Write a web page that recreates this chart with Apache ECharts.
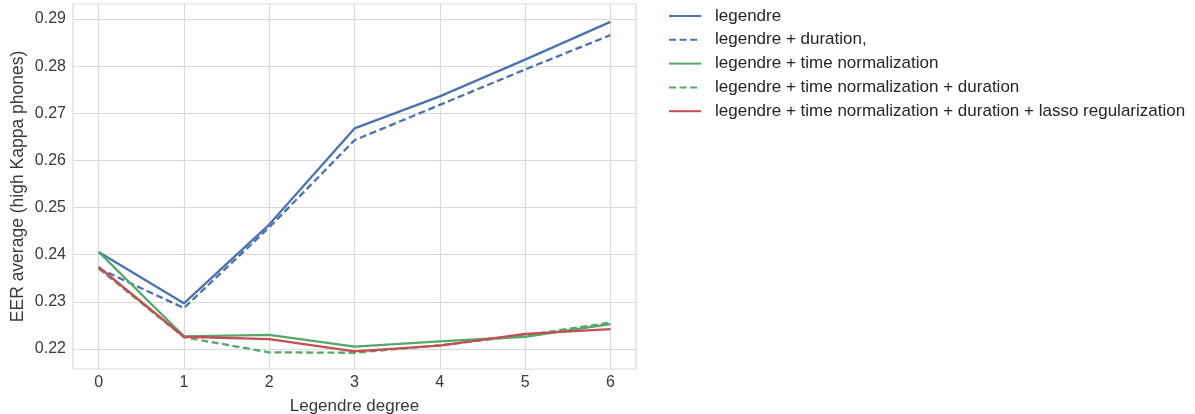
<!DOCTYPE html>
<html>
<head>
<meta charset="utf-8">
<script src="https://cdn.jsdelivr.net/npm/echarts@6/dist/echarts.min.js"></script>
<style>
  html, body { margin: 0; padding: 0; background: #fff; }
  #chart { width: 1195px; height: 414px; }
</style>
</head>
<body>
<div id="chart"></div>
<script>
// Legendre polynomial degree on the x axis
const degrees = [0, 1, 2, 3, 4, 5, 6];

// Average EER per feature set
const legendre          = [0.2406, 0.2297, 0.2464, 0.2668, 0.2736, 0.2814, 0.2894];
const legendreDur       = [0.2371, 0.2287, 0.2458, 0.2643, 0.2718, 0.2793, 0.2866];
const legendreNorm      = [0.2406, 0.2227, 0.2230, 0.2205, 0.2216, 0.2226, 0.2253];
const legendreNormDur   = [0.2371, 0.2225, 0.2193, 0.2192, 0.2208, 0.2229, 0.2256];
const legendreNormLasso = [0.2374, 0.2226, 0.2221, 0.2195, 0.2207, 0.2232, 0.2242];

const seriesNames = [
  'legendre',
  'legendre + duration,',
  'legendre + time normalization',
  'legendre + time normalization + duration',
  'legendre + time normalization + duration + lasso regularization'
];

// Tick positions
const xTicks = [0, 1, 2, 3, 4, 5, 6];
const yTicks = [0.22, 0.23, 0.24, 0.25, 0.26, 0.27, 0.28, 0.29];

const BLUE = '#4C72B0', GREEN = '#55A868', RED = '#C44E52';
const GRID = '#d9d9d9';
const TEXT = '#3a3a3a';
const FONT = '"Liberation Sans", Arial, sans-serif';

function pairs(ys) { return degrees.map((d, i) => [d, ys[i]]); }

function lineSeries(name, ys, color, dashed, z) {
  return {
    name: name,
    type: 'line',
    data: pairs(ys),
    symbol: 'none',
    showSymbol: false,
    silent: true,
    animation: false,
    z: z,
    lineStyle: { color: color, width: 2.3, type: dashed ? [7, 3.6] : 'solid' },
    itemStyle: { color: color }
  };
}

const chart = echarts.init(document.getElementById('chart'), null, { renderer: 'canvas' });

chart.setOption({
  animation: false,
  backgroundColor: '#ffffff',
  textStyle: { fontFamily: FONT },
  grid: {
    left: 73, right: 559, top: 4, bottom: 45,
    outerBoundsMode: 'none',
    containLabel: false,
    show: true, borderColor: GRID, borderWidth: 1.2, backgroundColor: 'transparent'
  },
  legend: {
    orient: 'vertical',
    left: 668, top: 7.5,
    padding: 0,
    itemWidth: 32, itemHeight: 14, itemGap: 6.8,
    itemStyle: { opacity: 0 },
    textStyle: { fontFamily: FONT, fontSize: 17, color: '#262626', padding: [0, 0, 0, 9] },
    data: seriesNames
  },
  xAxis: {
    type: 'value',
    min: -0.3, max: 6.3,
    name: 'Legendre degree',
    nameLocation: 'middle',
    nameGap: 29,
    nameTextStyle: { fontFamily: FONT, fontSize: 17, color: TEXT },
    axisLine: { show: false },
    axisTick: { show: false, customValues: xTicks },
    axisLabel: { customValues: xTicks, fontFamily: FONT, fontSize: 16, color: TEXT, margin: 6 },
    splitLine: { show: true, lineStyle: { color: GRID, width: 1.2 } }
  },
  yAxis: {
    type: 'value',
    min: 0.21576, max: 0.2932,
    name: 'EER average (high Kappa phones)',
    nameLocation: 'middle',
    nameGap: 46,
    nameTextStyle: { fontFamily: FONT, fontSize: 17.5, color: TEXT },
    axisLine: { show: false },
    axisTick: { show: false, customValues: yTicks },
    axisLabel: {
      customValues: yTicks, fontFamily: FONT, fontSize: 16, color: TEXT, margin: 7,
      formatter: v => v.toFixed(2)
    },
    splitLine: { show: true, lineStyle: { color: GRID, width: 1.2 } }
  },
  series: [
    lineSeries(seriesNames[0], legendre, BLUE, false, 5),
    lineSeries(seriesNames[1], legendreDur, BLUE, true, 6),
    lineSeries(seriesNames[2], legendreNorm, GREEN, false, 7),
    lineSeries(seriesNames[3], legendreNormDur, GREEN, true, 8),
    lineSeries(seriesNames[4], legendreNormLasso, RED, false, 9)
  ]
});
</script>
</body>
</html>
